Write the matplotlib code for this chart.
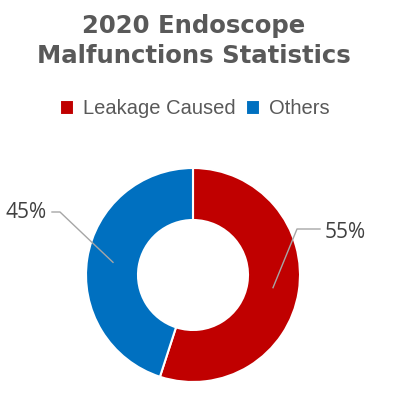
import numpy as np
import matplotlib
matplotlib.use("Agg")
import matplotlib.pyplot as plt

title = "2020 Endoscope\nMalfunctions Statistics"
categories = ["Leakage Caused", "Others"]
values = [55, 45]
labels = ["55%", "45%"]
colors = ["#C00000", "#0070C0"]

W = H = 396
fig = plt.figure(figsize=(3.96, 3.96), dpi=100)
ax = fig.add_axes([0, 0, 1, 1])

cx, cy = 193, H - 275
R, r_in = 107, 55
wedges, _ = ax.pie(values, colors=colors, startangle=90, counterclock=False,
                   center=(cx, cy), radius=R, frame=True,
                   wedgeprops=dict(width=R - r_in, edgecolor="white", linewidth=1.5))
ax.set_xlim(0, W)
ax.set_ylim(0, H)
ax.set_aspect("equal")
ax.axis("off")

# leader lines and labels
elbows = [(104, 46), (-133, 63)]
ends = [(127, 46), (-141, 63)]
for w, lab, el, en in zip(wedges, labels, elbows, ends):
    ang = np.deg2rad((w.theta1 + w.theta2) / 2)
    rm = (R + r_in) / 2
    px, py = cx + rm * np.cos(ang), cy + rm * np.sin(ang)
    ex, ey = cx + el[0], cy + el[1]
    tx, ty = cx + en[0], cy + en[1]
    ax.plot([px, ex, tx], [py, ey, ty], color="#A6A6A6", lw=1)
    if en[0] > 0:
        ax.text(tx + 5, ty - 3, lab, ha="left", va="center", fontsize=15,
                color="#404040", family="Open Sans")
    else:
        ax.text(tx - 5, ty, lab, ha="right", va="center", fontsize=15,
                color="#404040", family="Open Sans")

ax.text(194, H - 63, title, ha="center", va="baseline",
        fontsize=17.6, fontweight="bold", color="#595959", family="DejaVu Sans",
        linespacing=1.3)

# legend
leg = ax.legend(wedges, categories, loc="center", bbox_to_anchor=(0.492, (H - 109) / H),
                ncol=2, frameon=False, handlelength=0.7, handleheight=0.7,
                handletextpad=0.45, columnspacing=0.5,
                prop=dict(family="Liberation Sans", size=14.5))
for t in leg.get_texts():
    t.set_color("#595959")

fig.savefig("out.png", dpi=100)
